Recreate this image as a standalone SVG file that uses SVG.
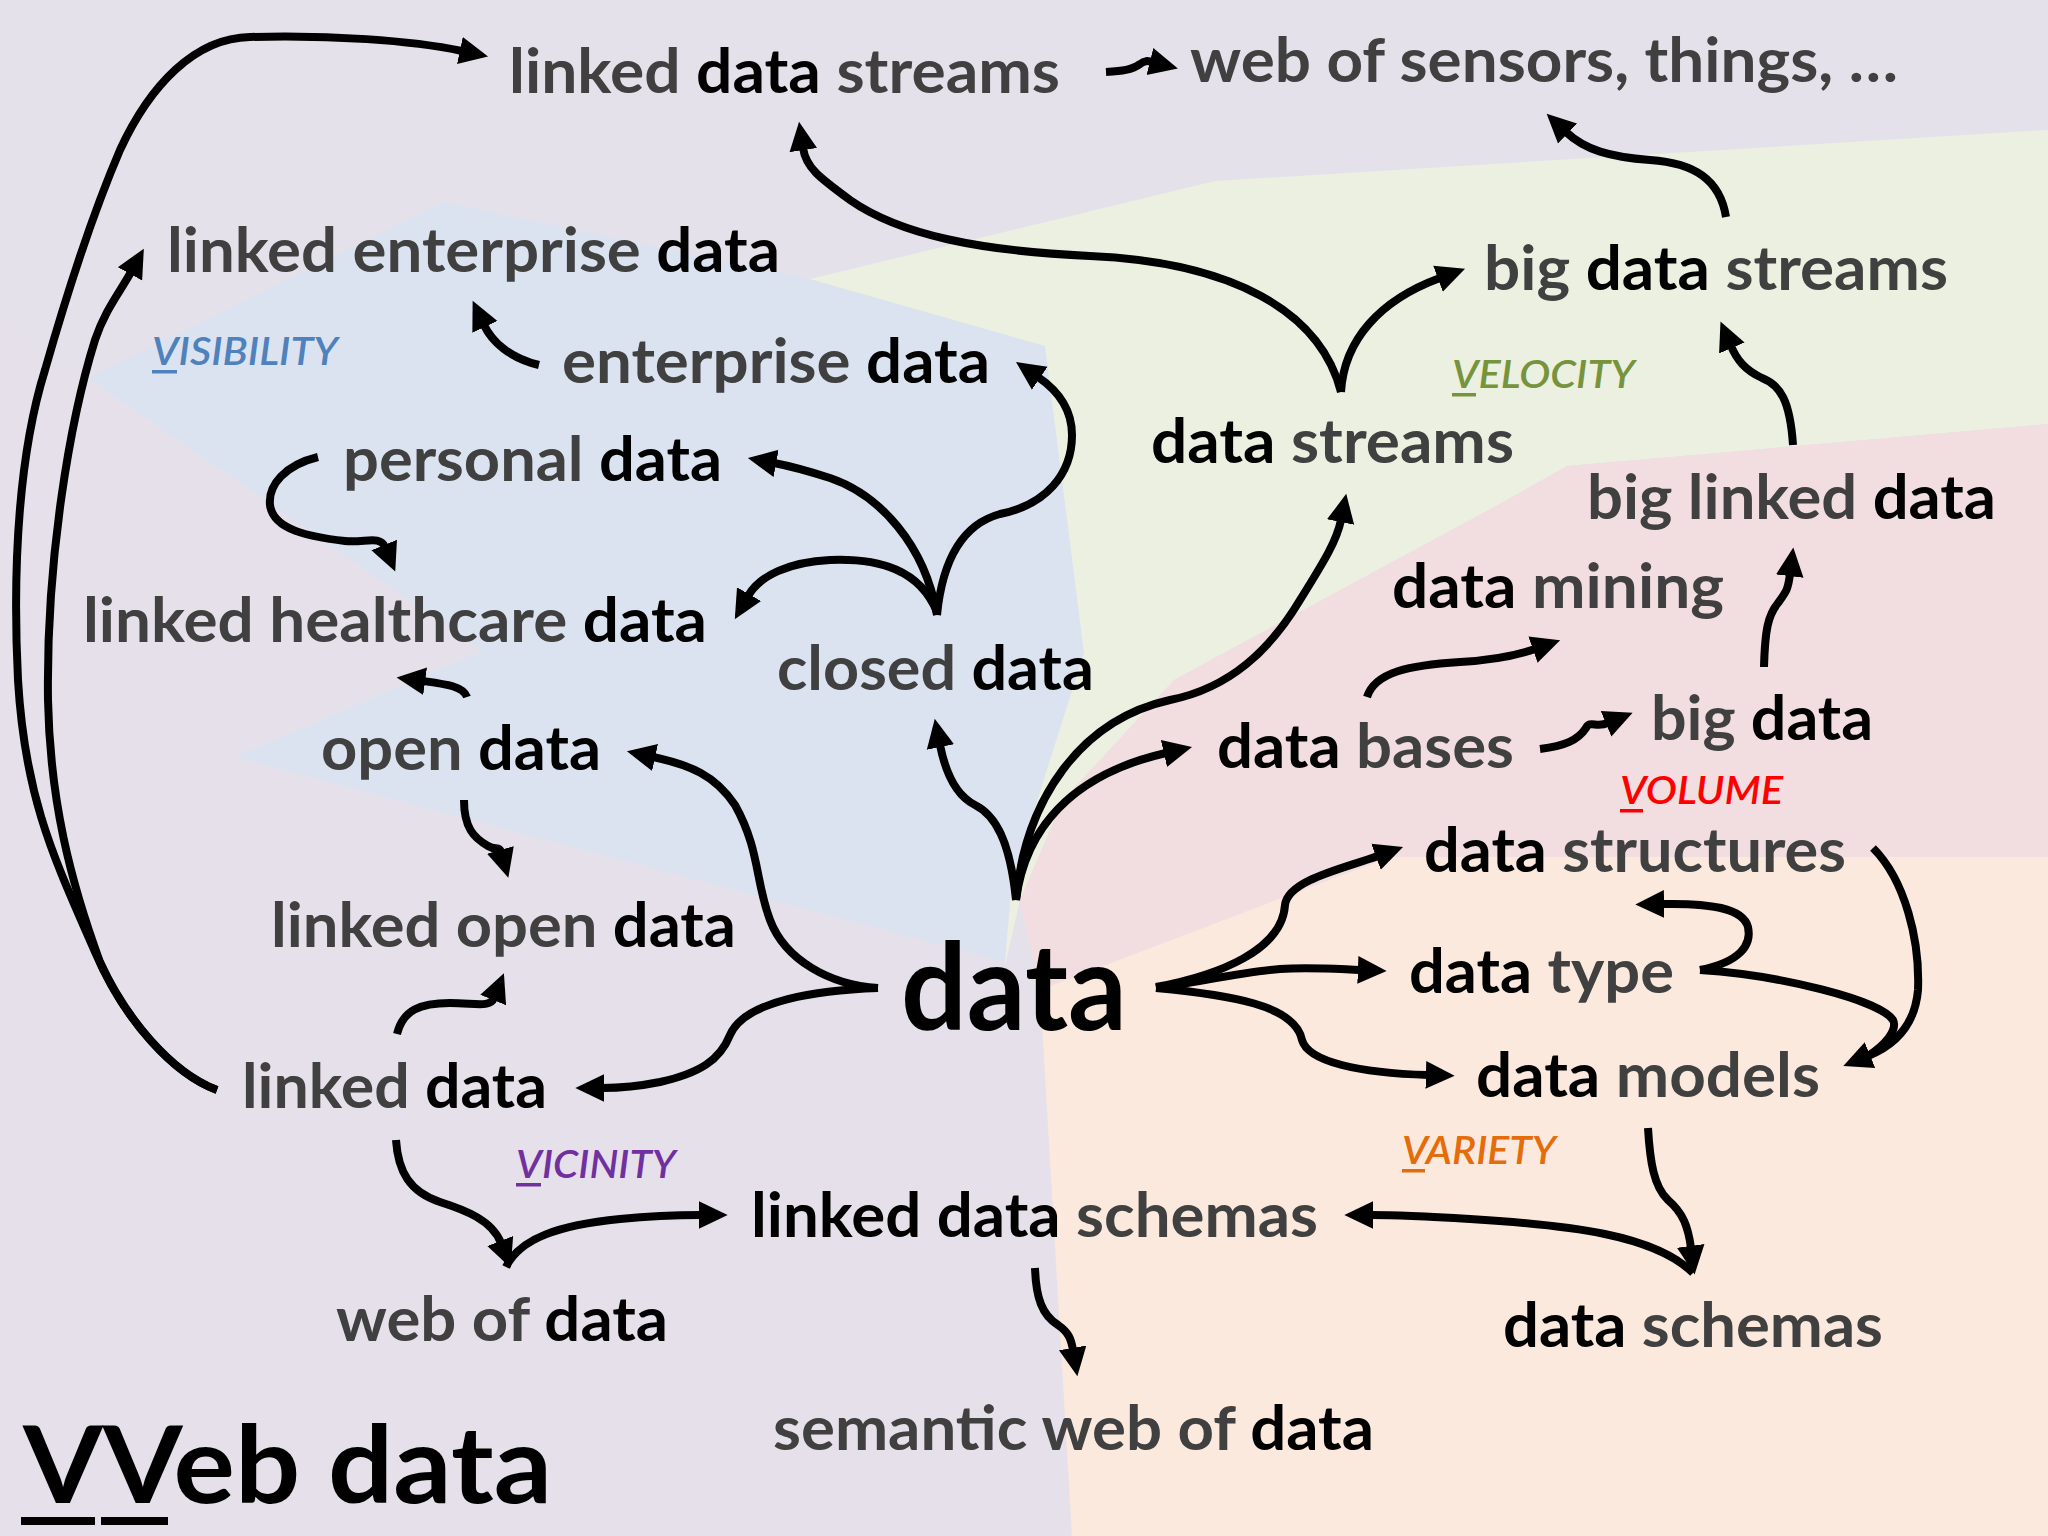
<svg xmlns="http://www.w3.org/2000/svg" width="2048" height="1536" viewBox="0 0 2048 1536">
<defs>
<style>
.t{font-family:Lato,'Open Sans','Liberation Sans',sans-serif;font-weight:700;font-size:61px;fill:#404040}
.k{fill:#000}
.lab{font-family:Lato,'Open Sans','Liberation Sans',sans-serif;font-weight:600;font-style:italic;font-size:39px}
.c{fill:none;stroke:#000;stroke-width:8;stroke-linecap:butt;stroke-linejoin:round}
.a{marker-end:url(#ah)}
</style>
<marker id="ah" markerUnits="userSpaceOnUse" markerWidth="32" markerHeight="32" viewBox="0 -14 30 28" refX="2" refY="0" orient="auto">
<path d="M0,-13 L27,0 L0,13 z" fill="#000"/>
</marker>
</defs>
<g id="background">
<rect x="0" y="0" width="2048" height="1536" fill="#E4E1EB"/>
<polygon points="0,330 88,378 480,645 235,757 1005,962 1040,990 1072,1536 0,1536" fill="#E6E0EA"/>
<polygon points="810,279 1215,181 2048,130 2048,424 1567,466 1507,500 1174,680 1063,800 1020,900 1005,965 1000,900" fill="#ECF0E1"/>
<polygon points="1567,466 2048,424 2048,857 1390,857 1040,990 1020,900 1063,800 1174,680 1507,500" fill="#F2DDE1"/>
<polygon points="1040,990 1390,857 2048,857 2048,1536 1072,1536" fill="#FCE9DD"/>
<polygon points="88,378 444,202 810,279 1045,346 1084,653 1012,880 1005,962 235,757 483,651" fill="#DCE3F0"/>
</g>
<g id="connectors">
<path class="c a" d="M217,1090 C175,1075 125,1022 95,952 C55,860 25,800 18,680 C12,560 20,450 45,370 C65,300 90,220 120,150 C150,85 195,38 250,37 C330,35 410,40 462,51"/>
<path class="c a" d="M217,1090 C170,1072 125,1017 100,962 C70,880 50,800 48,700 C46,560 70,420 95,340 C105,310 120,292 131,272"/>
<path class="c a" d="M1341,392 C1320,310 1230,262 1090,256 C980,251 900,235 850,200 C820,178 806,168 803,148"/>
<path class="c a" d="M1341,392 C1344,340 1380,300 1440,278"/>
<path class="c a" d="M1726,217 C1720,180 1695,163 1650,160 C1610,157 1585,150 1566,132"/>
<path class="c a" d="M1793,445 C1790,400 1780,385 1762,378 C1745,370 1737,360 1731,346"/>
<path class="c a" d="M1764,667 C1765,630 1768,615 1778,603 C1786,592 1788,590 1790,574"/>
<path class="c a" d="M1367,697 C1375,672 1410,665 1460,662 C1495,660 1515,656 1535,649"/>
<path class="c a" d="M1540,749 C1565,746 1578,740 1586,728 C1590,720 1596,728 1608,723"/>
<path class="c a" d="M1016,900 C1010,840 995,815 975,805 C955,795 945,770 940,745"/>
<path class="c a" d="M1016,900 C1025,830 1070,775 1166,753"/>
<path class="c a" d="M1016,900 C1025,800 1080,720 1170,700 C1230,688 1270,650 1300,600 C1325,560 1337,540 1341,520"/>
<path class="c a" d="M937,615 C925,545 880,495 830,478 C805,470 790,466 774,463"/>
<path class="c a" d="M937,612 C920,570 880,558 830,560 C790,562 760,575 748,596"/>
<path class="c a" d="M937,615 C942,565 960,525 1000,514 C1045,505 1072,475 1072,435 C1072,410 1060,392 1038,377"/>
<path class="c a" d="M318,457 C285,465 268,485 270,505 C273,530 310,537 345,541 C365,543 380,535 385,547"/>
<path class="c a" d="M539,365 C510,358 492,342 484,325"/>
<path class="c a" d="M467,697 C463,686 445,684 423,681"/>
<path class="c a" d="M464,800 C464,828 474,838 488,846 C496,851 499,845 501,852"/>
<path class="c a" d="M878,988 C830,985 785,960 770,920 C755,880 760,850 735,805 C715,775 690,765 653,757"/>
<path class="c a" d="M878,988 C820,990 745,1000 730,1035 C720,1060 700,1073 660,1082 C635,1087 618,1088 602,1088"/>
<path class="c a" d="M397,1034 C403,1010 420,1003 450,1003 C475,1003 490,1008 494,998"/>
<path class="c a" d="M396,1140 C398,1172 410,1192 440,1202 C465,1210 492,1220 501,1243"/>
<path class="c a" d="M506,1267 C520,1238 560,1225 620,1219 C660,1215 685,1215 701,1215"/>
<path class="c a" d="M1035,1268 C1036,1298 1042,1315 1058,1325 C1068,1332 1071,1338 1073,1350"/>
<path class="c a" d="M1648,1128 C1650,1162 1654,1187 1668,1200 C1683,1213 1688,1226 1691,1248"/>
<path class="c a" d="M1693,1273 C1655,1235 1570,1225 1470,1219 C1420,1216 1395,1215 1371,1215"/>
<path class="c a" d="M1156,987 C1220,975 1282,950 1285,905 C1288,880 1345,868 1378,856"/>
<path class="c a" d="M1156,988 C1200,982 1240,972 1280,969 C1310,967 1335,969 1360,970"/>
<path class="c a" d="M1156,988 C1230,995 1295,1005 1302,1040 C1308,1062 1360,1073 1428,1075"/>
<path class="c a" d="M1700,970 C1740,962 1752,945 1748,927 C1743,908 1710,903 1662,904"/>
<path class="c" d="M1700,970 C1780,975 1880,1000 1893,1020 C1898,1030 1885,1045 1868,1056"/>
<path class="c a" d="M1873,848 C1905,880 1920,940 1918,990 C1915,1025 1895,1045 1868,1056"/>
<path class="c a" d="M1106,72 C1122,71 1132,70 1140,64 C1145,60 1148,61 1152,62"/>
</g>
<g id="n-linked-data-streams"><text class="t" x="509" y="93" textLength="551" lengthAdjust="spacingAndGlyphs">linked <tspan class="k">data</tspan> streams</text></g>
<g id="n-web-of-sensors"><text class="t" x="1190" y="82" textLength="708" lengthAdjust="spacingAndGlyphs">web of sensors, things, …</text></g>
<g id="n-linked-enterprise-data"><text class="t" x="167" y="272" textLength="613" lengthAdjust="spacingAndGlyphs">linked enterprise <tspan class="k">data</tspan></text></g>
<g id="l-visibility"><text class="lab" x="152" y="365" textLength="186" lengthAdjust="spacingAndGlyphs" fill="#4F81BD">VISIBILITY</text><rect x="152" y="370" width="25" height="3.5" fill="#4F81BD"/></g>
<g id="n-enterprise-data"><text class="t" x="562" y="383" textLength="428" lengthAdjust="spacingAndGlyphs">enterprise <tspan class="k">data</tspan></text></g>
<g id="n-personal-data"><text class="t" x="343" y="481" textLength="379" lengthAdjust="spacingAndGlyphs">personal <tspan class="k">data</tspan></text></g>
<g id="n-linked-healthcare-data"><text class="t" x="83" y="642" textLength="624" lengthAdjust="spacingAndGlyphs">linked healthcare <tspan class="k">data</tspan></text></g>
<g id="n-closed-data"><text class="t" x="777" y="690" textLength="317" lengthAdjust="spacingAndGlyphs">closed <tspan class="k">data</tspan></text></g>
<g id="n-open-data"><text class="t" x="321" y="770" textLength="280" lengthAdjust="spacingAndGlyphs">open <tspan class="k">data</tspan></text></g>
<g id="n-linked-open-data"><text class="t" x="271" y="947" textLength="465" lengthAdjust="spacingAndGlyphs">linked open <tspan class="k">data</tspan></text></g>
<g id="n-data"><text class="t k" x="901" y="1030" textLength="226" lengthAdjust="spacingAndGlyphs" style="font-size:120px">data</text></g>
<g id="n-linked-data"><text class="t" x="242" y="1108" textLength="305" lengthAdjust="spacingAndGlyphs">linked <tspan class="k">data</tspan></text></g>
<g id="l-vicinity"><text class="lab" x="516" y="1178" textLength="160" lengthAdjust="spacingAndGlyphs" fill="#7030A0">VICINITY</text><rect x="516" y="1183" width="25" height="3.5" fill="#7030A0"/></g>
<g id="n-web-of-data"><text class="t" x="336" y="1341" textLength="332" lengthAdjust="spacingAndGlyphs">web of <tspan class="k">data</tspan></text></g>
<g id="title"><text class="t k" x="23" y="1503" textLength="529" lengthAdjust="spacingAndGlyphs" style="font-size:108px">VVeb data</text><rect x="21" y="1517" width="74" height="8" fill="#000"/><rect x="101" y="1517" width="67" height="8" fill="#000"/></g>
<g id="n-semantic-web-of-data"><text class="t" x="773" y="1450" textLength="601" lengthAdjust="spacingAndGlyphs">semantic web of <tspan class="k">data</tspan></text></g>
<g id="n-linked-data-schemas"><text class="t" x="751" y="1237" textLength="567" lengthAdjust="spacingAndGlyphs"><tspan class="k">linked data</tspan> schemas</text></g>
<g id="n-data-schemas"><text class="t" x="1503" y="1347" textLength="380" lengthAdjust="spacingAndGlyphs"><tspan class="k">data</tspan> schemas</text></g>
<g id="l-variety"><text class="lab" x="1402" y="1164" textLength="154" lengthAdjust="spacingAndGlyphs" fill="#E46C0A">VARIETY</text><rect x="1402" y="1169" width="23" height="3.5" fill="#E46C0A"/></g>
<g id="n-data-models"><text class="t" x="1476" y="1097" textLength="344" lengthAdjust="spacingAndGlyphs"><tspan class="k">data</tspan> models</text></g>
<g id="n-data-type"><text class="t" x="1409" y="993" textLength="265" lengthAdjust="spacingAndGlyphs"><tspan class="k">data</tspan> type</text></g>
<g id="n-data-structures"><text class="t" x="1424" y="872" textLength="422" lengthAdjust="spacingAndGlyphs"><tspan class="k">data</tspan> structures</text></g>
<g id="l-volume"><text class="lab" x="1620" y="804" textLength="163" lengthAdjust="spacingAndGlyphs" fill="#FF0000">VOLUME</text><rect x="1620" y="809" width="23" height="3.5" fill="#FF0000"/></g>
<g id="n-big-data"><text class="t" x="1651" y="740" textLength="222" lengthAdjust="spacingAndGlyphs">big <tspan class="k">data</tspan></text></g>
<g id="n-data-bases"><text class="t" x="1217" y="768" textLength="297" lengthAdjust="spacingAndGlyphs"><tspan class="k">data</tspan> bases</text></g>
<g id="n-data-mining"><text class="t" x="1392" y="608" textLength="332" lengthAdjust="spacingAndGlyphs"><tspan class="k">data</tspan> mining</text></g>
<g id="n-big-linked-data"><text class="t" x="1587" y="519" textLength="409" lengthAdjust="spacingAndGlyphs">big linked <tspan class="k">data</tspan></text></g>
<g id="n-data-streams"><text class="t" x="1151" y="463" textLength="363" lengthAdjust="spacingAndGlyphs"><tspan class="k">data</tspan> streams</text></g>
<g id="l-velocity"><text class="lab" x="1452" y="388" textLength="183" lengthAdjust="spacingAndGlyphs" fill="#77933C">VELOCITY</text><rect x="1452" y="393" width="24" height="3.5" fill="#77933C"/></g>
<g id="n-big-data-streams"><text class="t" x="1484" y="290" textLength="464" lengthAdjust="spacingAndGlyphs">big <tspan class="k">data</tspan> streams</text></g>
</svg>
